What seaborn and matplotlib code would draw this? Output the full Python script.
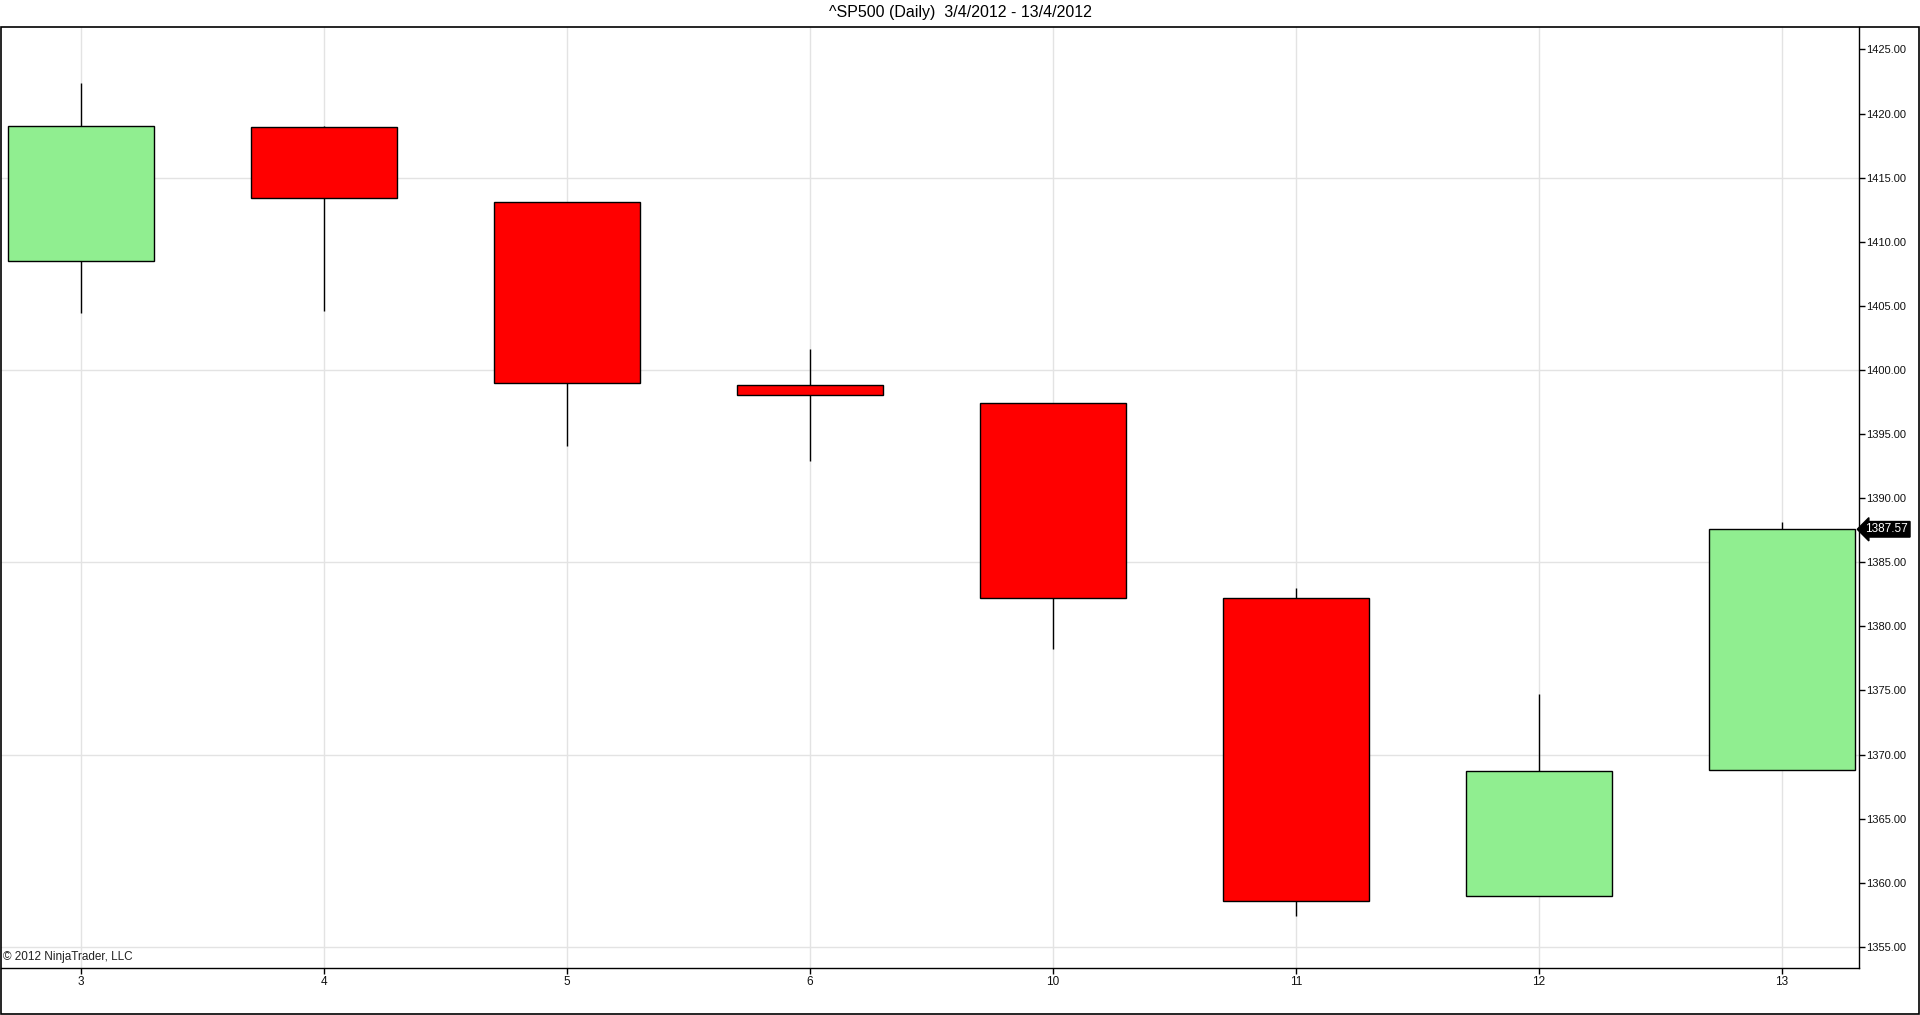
import matplotlib
matplotlib.use("Agg")
import matplotlib.pyplot as plt
import seaborn as sns
import pandas as pd
from matplotlib.ticker import MultipleLocator, FormatStrFormatter
from matplotlib.patches import Rectangle

# ^SP500 daily bars, 3/4/2012 - 13/4/2012
days = ["3", "4", "5", "6", "10", "11", "12", "13"]
opens = [1408.47, 1418.98, 1413.09, 1398.79, 1397.45, 1382.18, 1358.98, 1368.77]
highs = [1422.38, 1419.00, 1413.09, 1401.60, 1397.45, 1383.01, 1374.71, 1388.13]
lows = [1404.46, 1404.62, 1394.09, 1392.92, 1378.24, 1357.38, 1358.98, 1368.77]
closes = [1419.04, 1413.38, 1398.96, 1398.08, 1382.20, 1358.59, 1368.71, 1387.57]

df = pd.DataFrame({"day": days, "open": opens, "high": highs, "low": lows, "close": closes})
df["x"] = range(len(df))
df["up"] = df["close"] >= df["open"]

sns.set_theme(style="white")
plt.rcParams["font.family"] = ["Liberation Sans", "DejaVu Sans"]

fig = plt.figure(figsize=(19.2, 10.15), dpi=100)
ax = fig.add_axes([1 / 1920, 47 / 1015, 1858 / 1920, 941 / 1015])

# wicks
ax.vlines(df["x"], df["low"], df["high"], color="black", lw=1, zorder=2)
# bodies
colors = ["#90ee90" if u else "#ff0000" for u in df["up"]]
bottoms = df[["open", "close"]].min(axis=1)
heights = (df["close"] - df["open"]).abs()
ax.bar(df["x"], heights, bottom=bottoms, width=0.6, color=colors,
       edgecolor="black", lw=1, zorder=3)

ax.set_xlim(-0.33, 7.317)
ax.set_ylim(1353.35, 1426.75)
ax.set_xticks(df["x"])
ax.set_xticklabels(df["day"])
ax.yaxis.tick_right()
ax.yaxis.set_major_locator(MultipleLocator(5))
ax.yaxis.set_minor_locator(MultipleLocator(15, offset=5))
ax.yaxis.remove_overlapping_locs = False  # minor grid sits on major ticks
ax.yaxis.set_major_formatter(FormatStrFormatter("%.2f"))
ax.tick_params(axis="y", which="major", direction="out", length=4, width=1,
               color="black", labelsize=8, labelcolor="#111111", pad=1)
ax.tick_params(axis="y", which="minor", length=0, right=True)
ax.tick_params(axis="x", direction="out", length=4, width=1, color="black",
               labelsize=8.5, labelcolor="#111111", pad=2, bottom=True)

# grid: verticals at each bar, horizontals every 15 points
ax.set_axisbelow(True)
ax.yaxis.grid(True, which="minor", color="#e3e3e3", lw=1)
ax.yaxis.grid(False, which="major")
ax.xaxis.grid(True, which="major", color="#e3e3e3", lw=1)

for s in ["top", "left"]:
    ax.spines[s].set_visible(False)
for s in ["right", "bottom"]:
    ax.spines[s].set_color("black")
    ax.spines[s].set_linewidth(1)

# last price marker
last = df["close"].iloc[-1]
ax.text(1.0035, last, f"{last:.2f}", transform=ax.get_yaxis_transform(),
        color="white", fontsize=8.5, va="center", ha="left", zorder=5,
        bbox=dict(boxstyle="larrow,pad=0.15", fc="black", ec="black"),
        clip_on=False)

ax.text(0.001, 0.005, "\u00a9 2012 NinjaTrader, LLC", transform=ax.transAxes,
        fontsize=8.5, color="#222222", ha="left", va="bottom")

fig.text(0.5, 1 - 13 / 1015, "^SP500 (Daily)  3/4/2012 - 13/4/2012",
         ha="center", va="center", fontsize=11.5, color="black")

# outer chart frame
fig.patches.append(Rectangle((0.5 / 1920, 1.5 / 1015), 1 - 1.5 / 1920, 1 - 28.5 / 1015,
                             transform=fig.transFigure, fill=False,
                             ec="black", lw=1.2, zorder=10))

fig.savefig("out.png", dpi=100, facecolor="white")
